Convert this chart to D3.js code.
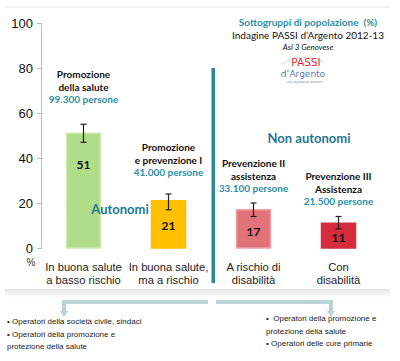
<!DOCTYPE html>
<html><head><meta charset="utf-8">
<script src="https://cdn.jsdelivr.net/npm/d3@7"></script>
<style>body{margin:0;background:#fff}svg{display:block}</style>
</head><body>
<script>
const categories = [["In buona salute","a basso rischio"],["In buona salute,","ma a rischio"],["A rischio di","disabilità"],["Con","disabilità"]];
const values = [51, 21, 17, 11];
const ciLow = [47, 17, 14, 8.5];
const ciHigh = [55, 24, 20, 14];
const groupTitles = [["Promozione","della salute"],["Promozione","e prevenzione I"],["Prevenzione II","assistenza"],["Prevenzione III","Assistenza"]];
const groupPeople = ["99.300 persone","41.000 persone","33.100 persone","21.500 persone"];
const yTicks = [0,20,40,60,80,100];
const colors = ["#b0dd88","#ffc000","#e2727a","#d42c3c"];
const strokes = ["#cbe9ae","#ffc000","#eea0a4","#d42c3c"];
const leftBullets = ["• Operatori della società civile, sindaci","• Operatori della promozione e","protezione della salute"];
const rightBullets = ["•  Operatori della promozione e","protezione della salute","• Operatori delle cure primarie"];

const W=400,H=361;
const svg=d3.select("body").append("svg").attr("width",W).attr("height",H);
const teal="#2b8fa8", dark="#1e7894";
const x=d3.scaleBand().domain(d3.range(4)).range([41,381]).paddingInner(0.6).paddingOuter(0.3);
const y=d3.scaleLinear().domain([0,100]).range([248,23]);

// faint slide top line
svg.append("rect").attr("x",5).attr("y",6).attr("width",385).attr("height",2).attr("fill","#f3f3f3");
// gray band
const g=svg.append("defs").append("linearGradient").attr("id","band").attr("x1",0).attr("y1",0).attr("x2",0).attr("y2",1);
g.append("stop").attr("offset","0").attr("stop-color","#e4e6e6");
g.append("stop").attr("offset","1").attr("stop-color","#ffffff");
svg.append("rect").attr("x",5).attr("y",289).attr("width",385).attr("height",9).attr("fill","url(#band)");

// axis
const ax=svg.append("g").attr("transform","translate(41,0)").call(d3.axisLeft(y).tickValues(yTicks).tickSize(4).tickPadding(4));
ax.select(".domain").attr("stroke","#bbb").attr("d","M-4,23.5H0.5V248.5H-4");
ax.selectAll(".tick line").attr("stroke","#bbb");
ax.selectAll(".tick text").attr("font-family","Liberation Sans, Arial, sans-serif").attr("font-size",13).attr("fill","#111");
svg.append("text").attr("x",31).attr("y",266).attr("text-anchor","middle").attr("font-family","Liberation Sans, Arial").attr("font-size",10).attr("fill","#333").text("%");

// bars
svg.selectAll("rect.bar").data(values).join("rect").attr("class","bar")
 .attr("x",(d,i)=>x(i)).attr("y",d=>y(d)).attr("width",x.bandwidth()).attr("height",d=>y(0)-y(d))
 .attr("fill",(d,i)=>colors[i]).attr("stroke",(d,i)=>strokes[i]).attr("stroke-width",1.5);
// error bars
const cx=i=>x(i)+x.bandwidth()/2;
values.forEach((v,i)=>{
  const e=svg.append("g").attr("stroke","#222").attr("stroke-width",1.2);
  e.append("line").attr("x1",cx(i)).attr("x2",cx(i)).attr("y1",y(ciLow[i])).attr("y2",y(ciHigh[i]));
  e.append("line").attr("x1",cx(i)-3).attr("x2",cx(i)+3).attr("y1",y(ciLow[i])).attr("y2",y(ciLow[i]));
  e.append("line").attr("x1",cx(i)-3).attr("x2",cx(i)+3).attr("y1",y(ciHigh[i])).attr("y2",y(ciHigh[i]));
});
// value labels
const labY=[y(values[0])+36, y(values[1])+29, y(values[2])+26, y(values[3])+19];
values.forEach((v,i)=>{
  svg.append("text").attr("x",cx(i)).attr("y",labY[i]).attr("text-anchor","middle")
   .attr("font-family","Lato, sans-serif").attr("font-weight","bold").attr("font-size",12).attr("fill","#111").text(v);
});
// group annotations
const annY=[78,151,167,180];
groupTitles.forEach((t,i)=>{
  const tx=svg.append("text").attr("x",cx(i)).attr("y",annY[i]).attr("text-anchor","middle")
    .attr("font-family","Lato, sans-serif").attr("font-weight","bold").attr("font-size",10).attr("fill","#111");
  t.forEach((s,k)=>tx.append("tspan").attr("x",cx(i)).attr("dy",k?13:0).text(s));
  svg.append("text").attr("x",cx(i)).attr("y",annY[i]+25).attr("text-anchor","middle")
    .attr("font-family","Lato, sans-serif").attr("font-weight","bold").attr("font-size",10).attr("fill",teal).text(groupPeople[i]);
});
// category labels
categories.forEach((c,i)=>{
  const tx=svg.append("text").attr("x",cx(i)).attr("y",271).attr("text-anchor","middle")
    .attr("font-family","Liberation Sans, Arial, sans-serif").attr("font-size",11.2).attr("fill","#222");
  c.forEach((s,k)=>tx.append("tspan").attr("x",cx(i)).attr("dy",k?13:0).text(s));
});
// big labels
svg.append("text").attr("x",120).attr("y",214).attr("text-anchor","middle").attr("font-family","Lato, sans-serif")
  .attr("font-weight","bold").attr("font-size",13).attr("fill",dark).text("Autonomi");
svg.append("text").attr("x",309).attr("y",143).attr("text-anchor","middle").attr("font-family","Lato, sans-serif")
  .attr("font-weight","bold").attr("font-size",13).attr("fill",dark).text("Non autonomi");
// divider
svg.append("rect").attr("x",211.5).attr("y",68).attr("width",3.5).attr("height",215).attr("fill","#2a8a9c");

// title block
svg.append("text").attr("x",308).attr("y",26).attr("text-anchor","middle").attr("font-family","Lato, sans-serif")
  .attr("font-weight","bold").attr("font-size",10).attr("fill",teal).attr("xml:space","preserve").text("Sottogruppi di popolazione  (%)");
svg.append("text").attr("x",308).attr("y",39).attr("text-anchor","middle").attr("font-family","Lato, sans-serif")
  .attr("font-size",10).attr("fill","#111").text("Indagine PASSI d’Argento 2012-13");
svg.append("text").attr("x",308).attr("y",50).attr("text-anchor","middle").attr("font-family","Lato, sans-serif")
  .attr("font-style","italic").attr("font-size",8).attr("fill","#111").text("Asl 3 Genovese");
// logo
svg.append("path").attr("d","M282,64 Q300,52 324,62").attr("fill","none").attr("stroke","#ddd").attr("stroke-width",1.2);
svg.append("text").attr("x",306).attr("y",66).attr("text-anchor","middle").attr("font-family","DejaVu Sans, sans-serif")
  .attr("font-size",10.5).attr("fill","#e0303a").text("PASSI");
svg.append("text").attr("x",303).attr("y",76.5).attr("text-anchor","middle").attr("font-family","DejaVu Sans, sans-serif")
  .attr("font-size",9).attr("fill","#5a7ab0").text("d’Argento");
svg.append("text").attr("x",305).attr("y",82.5).attr("text-anchor","middle").attr("font-family","DejaVu Sans, sans-serif")
  .attr("font-style","italic").attr("font-size",3.5).attr("fill","#8090b0").text("sorveglianza anziani");

// arrows
const ac="#b9d3d6";
svg.append("path").attr("d","M208,302 H64 V312").attr("fill","none").attr("stroke",ac).attr("stroke-width",4);
svg.append("path").attr("d","M60,311 L68,311 L64,317 Z").attr("fill",ac);
svg.append("path").attr("d","M216,302 H331 V312").attr("fill","none").attr("stroke",ac).attr("stroke-width",4);
svg.append("path").attr("d","M327,311 L335,311 L331,317 Z").attr("fill",ac);

// bullets
const bf="Liberation Sans, Arial, sans-serif";
leftBullets.forEach((s,k)=>svg.append("text").attr("x",7).attr("y",324+k*12.5).attr("font-family",bf).attr("font-size",8).attr("fill","#222").attr("xml:space","preserve").text(s));
rightBullets.forEach((s,k)=>svg.append("text").attr("x",266).attr("y",321+k*12.5).attr("font-family",bf).attr("font-size",8).attr("fill","#222").attr("xml:space","preserve").text(s));
</script>
</body></html>
